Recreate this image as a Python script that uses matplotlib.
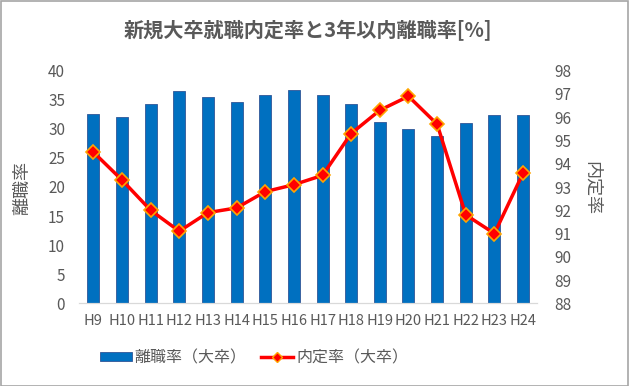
import matplotlib
matplotlib.use("Agg")
import matplotlib.pyplot as plt
from matplotlib.patches import Rectangle
from matplotlib.lines import Line2D
from matplotlib.patches import Patch

plt.rcParams['font.family'] = ['Noto Sans CJK JP', 'DejaVu Sans']

categories = ["H9", "H10", "H11", "H12", "H13", "H14", "H15", "H16",
              "H17", "H18", "H19", "H20", "H21", "H22", "H23", "H24"]
turnover = [32.5, 32.0, 34.3, 36.5, 35.4, 34.7, 35.8, 36.6,
            35.9, 34.2, 31.1, 30.0, 28.8, 31.0, 32.3, 32.3]
offer_rate = [94.5, 93.3, 92.0, 91.1, 91.9, 92.1, 92.8, 93.1,
              93.5, 95.3, 96.3, 96.9, 95.7, 91.8, 91.0, 93.6]
left_ticks = [0, 5, 10, 15, 20, 25, 30, 35, 40]
right_ticks = [88, 89, 90, 91, 92, 93, 94, 95, 96, 97, 98]

title = "新規大卒就職内定率と3年以内離職率[%]"
bar_label = "離職率（大卒）"
line_label = "内定率（大卒）"

gray = "#595959"
W, H = 629, 386
fig = plt.figure(figsize=(W / 100, H / 100), dpi=100)
ax = fig.add_axes([79 / W, 1 - 303.3 / H, (537.4 - 79) / W, (303.3 - 70.7) / H])
ax2 = ax.twinx()

x = list(range(len(categories)))
ax.bar(x, turnover, width=0.42, color="#0070C0", edgecolor="#2F5597", linewidth=0.6, zorder=2)
ax.set_xlim(-0.5, len(categories) - 0.5)
ax.set_ylim(0, 40)
ax.set_yticks(left_ticks)
ax.set_xticks(x)
ax.set_xticklabels(categories)

ax2.plot(x, offer_rate, color="#FF0000", linewidth=2.5, marker="D", markersize=7,
         markerfacecolor="#FF0000", markeredgecolor="#FFA500", markeredgewidth=1.2, zorder=3)
ax2.set_ylim(88, 98)
ax2.set_yticks(right_ticks)

for a in (ax, ax2):
    for s in ("top", "left", "right"):
        a.spines[s].set_visible(False)
    a.spines["bottom"].set_color("#D9D9D9")
    a.tick_params(length=0, colors=gray, labelsize=11)
ax.tick_params(axis="x", labelsize=10.5)
ax.tick_params(axis="y", pad=10)
ax.tick_params(axis="x", pad=8)
ax2.tick_params(axis="y", pad=12)

fig.text(22 / W, 1 - 188 / H, "離職率", rotation=90, ha="center", va="center",
         color=gray, fontsize=13)
fig.text(592 / W, 1 - 188 / H, "内定率", rotation=270, ha="center", va="center",
         color=gray, fontsize=13)
fig.text(308 / W, 1 - 31 / H, title, ha="center", va="center", color=gray,
         fontsize=14.5, fontweight="bold")

handles = [Patch(facecolor="#0070C0", edgecolor="#2F5597", linewidth=0.6),
           Line2D([0], [0], color="#FF0000", linewidth=2.5, marker="D", markersize=5,
                  markerfacecolor="#FF0000", markeredgecolor="#FFA500")]
fig.legend(handles, [bar_label, line_label], loc="center", bbox_to_anchor=(254 / W, 1 - 358 / H),
           ncol=2, frameon=False, fontsize=11.5, labelcolor=gray, handlelength=2.0,
           handleheight=0.5, handletextpad=0.2, columnspacing=0.9)

fig.patches.append(Rectangle((0.5 / W, 0.5 / H), 1 - 1.5 / W, 1 - 1.5 / H, transform=fig.transFigure,
                             fill=False, edgecolor="#A6A6A6", linewidth=1.2))

fig.savefig("out.png", dpi=100)
